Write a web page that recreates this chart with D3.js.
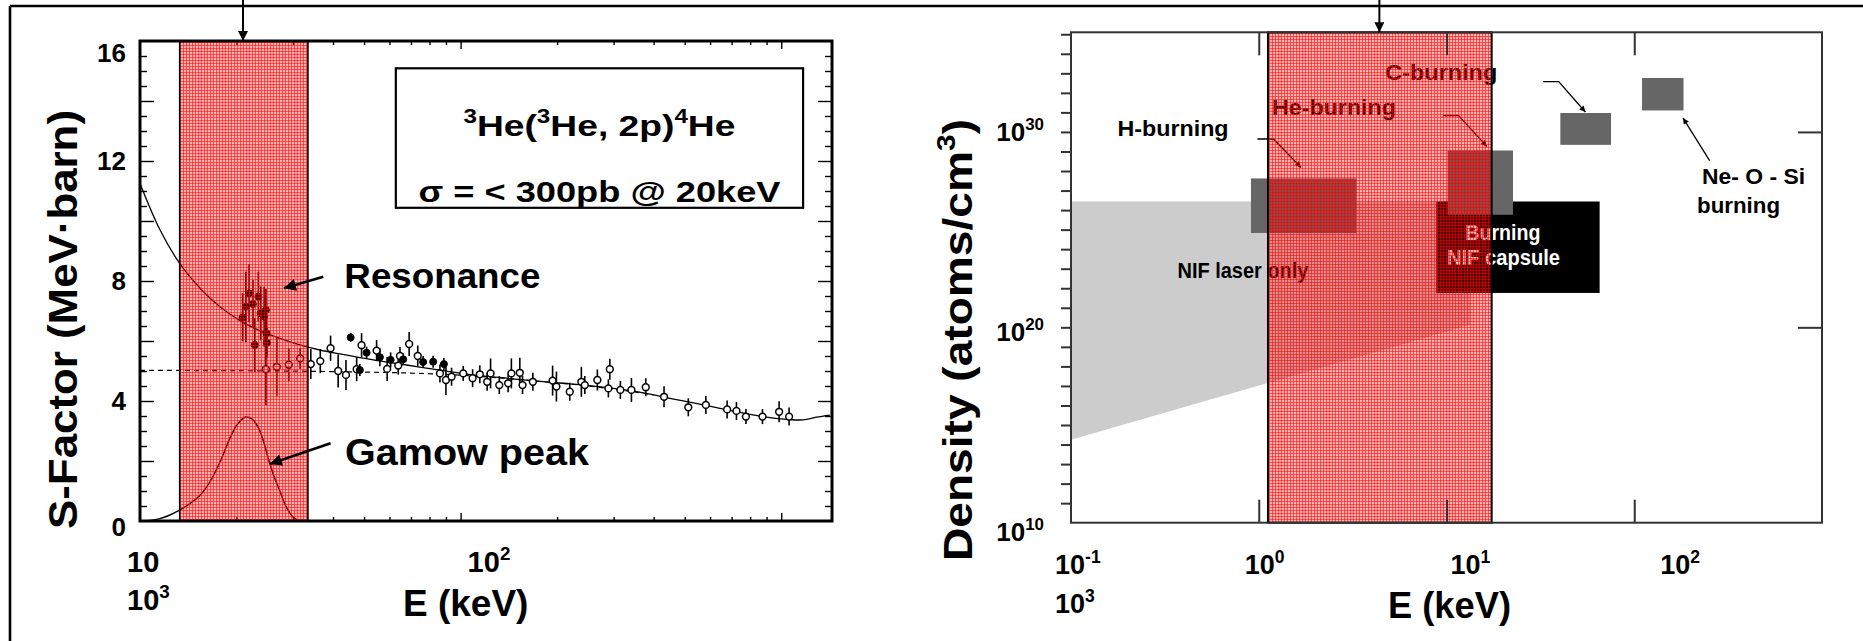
<!DOCTYPE html>
<html>
<head>
<meta charset="utf-8">
<script src="https://cdn.jsdelivr.net/npm/d3@7/dist/d3.min.js"></script>
<style>
  html, body { margin: 0; padding: 0; background: #fff; }
  svg { display: block; }
  text { font-family: "Liberation Sans", Arial, Helvetica, sans-serif; font-weight: bold; }
</style>
</head>
<body>
<svg id="fig" width="1863" height="641"></svg>
<script>
// ================= Left panel: 3He(3He,2p)4He S-factor =================
// R-matrix style fit of the S-factor (MeV·barn) vs centre-of-mass energy (keV)
const fitE = [10, 11.55, 13.33, 15.4, 17.76, 20.5, 23.7, 27.3, 31.5, 36.4, 42, 53.4, 67.8, 86.2, 109, 139, 172.6, 220, 278, 354, 449, 571, 725, 878, 1039, 1170, 1288, 1418];
const fitS = [11.25, 9.7, 8.57, 7.76, 7.14, 6.68, 6.34, 6.09, 5.87, 5.7, 5.57, 5.37, 5.2, 5.03, 4.87, 4.76, 4.66, 4.57, 4.46, 4.31, 4.09, 3.87, 3.64, 3.48, 3.39, 3.37, 3.46, 3.53];
// bare-nucleus S-factor (dashed)
const bareE = [10, 20, 40, 70, 100, 150, 250, 360, 400];
const bareS = [5.02, 5.01, 4.98, 4.93, 4.86, 4.72, 4.5, 4.28, 4.2];
// Gamow peak (arbitrary units on the same axis)
const gamowE = [10, 10.75, 11.54, 12.4, 13.32, 14.31, 15.37, 16.51, 17.74, 19.06, 20.06, 21.26, 22.37, 23.37, 24.21, 25.1, 26.16, 27.3, 28.5, 29.75, 31.1, 32.7];
const gamowS = [0, 0.02, 0.08, 0.2, 0.37, 0.58, 0.85, 1.3, 1.95, 2.75, 3.2, 3.46, 3.4, 3.12, 2.7, 2.1, 1.5, 1.0, 0.5, 0.18, 0.02, 0];
// measurements, open symbols: energy (keV), S (MeV·b), error
const openE = [24.7, 26.7, 29.1, 31.6, 34.1, 36.5, 39.3, 41.5, 43.9, 47.4, 49.1, 54.7, 59.0, 63.9, 64.7, 69.1, 73.5, 86.2, 90, 93.7, 101.9, 109, 114.8, 121, 124, 132, 140.7, 144, 153, 156, 168, 193.6, 199, 219, 238, 244, 267, 292, 289, 315, 341, 378, 431, 513, 582, 678, 725, 776, 874, 985, 1058];
const openS = [5.06, 5.14, 5.21, 5.42, 5.23, 5.33, 5.76, 5.0, 4.87, 5.06, 5.86, 5.68, 5.07, 5.18, 5.5, 5.9, 5.5, 4.92, 4.7, 4.81, 4.92, 4.76, 4.89, 4.64, 4.92, 4.53, 4.59, 4.92, 4.94, 4.53, 4.64, 4.68, 4.48, 4.31, 4.64, 4.53, 4.7, 5.06, 4.42, 4.37, 4.37, 4.46, 4.14, 3.79, 3.87, 3.72, 3.67, 3.48, 3.48, 3.64, 3.48];
const openErr = [1.2, 0.97, 0.55, 0.35, 0.5, 0.4, 0.42, 0.55, 0.5, 0.4, 0.4, 0.35, 0.4, 0.3, 0.3, 0.4, 0.35, 0.3, 0.5, 0.3, 0.25, 0.3, 0.3, 0.3, 0.5, 0.3, 0.3, 0.5, 0.5, 0.3, 0.3, 0.5, 0.5, 0.3, 0.5, 0.3, 0.35, 0.35, 0.3, 0.3, 0.4, 0.3, 0.35, 0.3, 0.3, 0.3, 0.3, 0.25, 0.25, 0.35, 0.3];
// measurements, filled symbols
const filledE = [20.9, 21.4, 21.9, 22.5, 22.8, 23.4, 23.8, 24.4, 24.7, 24.8, 24.9, 45.4, 48.5, 50.9, 56, 60.5, 66.2, 76.4, 82.1, 88.7];
const filledS = [6.79, 7.14, 7.59, 7.23, 5.87, 7.48, 6.92, 6.81, 7.03, 6.26, 5.94, 6.12, 5.03, 5.61, 5.46, 5.37, 5.39, 5.3, 5.31, 5.23];
const filledErr = [0.8, 1.17, 0.97, 0.8, 0.9, 0.83, 0.9, 1.0, 0.7, 0.6, 0.5, 0.15, 0.2, 0.2, 0.3, 0.25, 0.2, 0.2, 0.2, 0.2];
// Gamow window (keV) and solar Gamow energy
const windowLeft = [13.3, 33.4];
const peakLeft = 20.95;
const sTickValues = [0, 4, 8, 12, 16];
const sTickLabels = ["0", "4", "8", "12", "16"];
const eLeftTickLabels = [["10", ""], ["10", "2"]];
const eLeftTickValues = [10, 100];

// ================= Right panel: density vs temperature =================
// log10 of density (atoms/cm^3) is used for the region corners
const laserE = [0.1, 13.4, 13.4, 0.1];
const laserLogD = [26.44, 26.44, 20.13, 14.25];
const boxNames = ["H-burning", "Burning NIF capsule", "He-burning", "C-burning", "Ne-O-Si burning"];
const boxE0 = [0.909, 8.83, 10.14, 40.4, 110];
const boxE1 = [3.31, 65.4, 22.6, 75.2, 183];
const boxLogD0 = [24.83, 21.76, 25.76, 29.34, 31.10];
const boxLogD1 = [27.62, 26.44, 29.05, 30.97, 32.76];
const windowRight = [1.12, 17.4];
const peakRight = 4.39;
const eRightTickValues = [0.1, 1, 10, 100];
const eRightTickLabels = [["10", "-1"], ["10", "0"], ["10", "1"], ["10", "2"]];
const dTickValues = [1e10, 1e20, 1e30];
const dTickLabels = [["10", "10"], ["10", "20"], ["10", "30"]];
const regionLabels = ["H-burning", "He-burning", "C-burning", "NIF laser only", "Burning", "NIF capsule", "Ne- O - Si", "burning"];
const regionLabelE = [0.177, 1.176, 4.72, 0.369, 12.6, 10.06, 229.7, 216];
const regionLabelLogD = [29.81, 30.88, 32.65, 22.55, 24.48, 23.2, 27.33, 25.85];
const leaderE = [[0.985, 1.199, 1.678], [9.58, 11.6, 16.4], [32.7, 39.6, 54.9], [252, 182]];
const leaderLogD = [[29.64, 29.64, 28.18], [30.84, 30.84, 29.26], [32.58, 32.58, 31.02], [28.53, 30.71]];

// ---------------- layout & styles ----------------
const W = 1863, H = 641;
const PL = { x0: 140, x1: 832, y0: 41, y1: 521 };
const PR = { x0: 1071, x1: 1822, y0: 32.3, y1: 522.7 };
const boxFill = ["#666666", "#000000", "#666666", "#666666", "#666666"];
const regionLabelColor = ["#000", "#000", "#000", "#000", "#fff", "#fff", "#000", "#000"];
const regionLabelWidth = [111, 124, 112, 131, 75, 113, 103, 83];

const svg = d3.select("#fig");
const defs = svg.append("defs");

// red cross-hatch used for the Gamow windows
const pat = defs.append("pattern").attr("id", "hatch")
  .attr("patternUnits", "userSpaceOnUse").attr("width", 3).attr("height", 3);
pat.append("rect").attr("width", 3).attr("height", 3).attr("fill", "rgba(255,0,0,0.30)");
pat.append("rect").attr("width", 3).attr("height", 1).attr("fill", "rgba(255,0,0,0.55)");
pat.append("rect").attr("width", 1).attr("height", 3).attr("fill", "rgba(255,0,0,0.55)");

function arrowMarker(id, len, wid) {
  defs.append("marker").attr("id", id)
    .attr("viewBox", "0 0 10 10").attr("refX", 10).attr("refY", 5)
    .attr("markerUnits", "userSpaceOnUse")
    .attr("markerWidth", len).attr("markerHeight", wid)
    .attr("orient", "auto")
    .append("path").attr("d", "M0,0 L10,5 L0,10 Z").attr("fill", "#000");
}
arrowMarker("headBig", 15, 12);
arrowMarker("headTop", 12, 10);
arrowMarker("headSmall", 9, 6);

// text with superscripts: parts = [[str, isSup], ...]
function richText(sel, parts, fs) {
  let up = false;
  parts.forEach(([s, isSup]) => {
    if (!s) return;
    const ts = sel.append("tspan").text(s);
    if (isSup) ts.attr("font-size", fs * 0.65);
    if (isSup && !up) ts.attr("dy", -0.42 * fs);
    if (!isSup && up) ts.attr("dy", 0.42 * fs);
    up = isSup;
  });
  return sel;
}

// outer frame of the slide
svg.append("line").attr("x1", 10).attr("x2", W).attr("y1", 6).attr("y2", 6)
  .attr("stroke", "#000").attr("stroke-width", 2.6);
svg.append("line").attr("x1", 10).attr("x2", 10).attr("y1", 6).attr("y2", H)
  .attr("stroke", "#000").attr("stroke-width", 2.6);

// ======================= LEFT PANEL =======================
const xL = d3.scaleLog().domain([10, 1440]).range([PL.x0, PL.x1]);
const yL = d3.scaleLinear().domain([0, 16]).range([PL.y1, PL.y0]);
const gL = svg.append("g");

// ticks (all pointing inward)
const eMinor = d3.range(20, 100, 10).concat(d3.range(200, 1000, 100));
const eMajor = [100, 1000];
const sMinor = d3.range(0.5, 16, 0.5).filter(v => v % 2 !== 0);
const sMajor = d3.range(2, 16, 2);
function tickGroup(axis, tx, ty) {
  const g = gL.append("g").attr("transform", `translate(${tx},${ty})`).call(axis);
  g.select(".domain").remove();
  g.selectAll("line").attr("stroke", "#000").attr("stroke-width", 1.4);
  return g;
}
tickGroup(d3.axisBottom(xL).tickValues(eMinor).tickSize(-4).tickFormat(""), 0, PL.y1);
tickGroup(d3.axisBottom(xL).tickValues(eMajor).tickSize(-8).tickFormat(""), 0, PL.y1);
tickGroup(d3.axisTop(xL).tickValues(eMinor).tickSize(-4).tickFormat(""), 0, PL.y0);
tickGroup(d3.axisTop(xL).tickValues(eMajor).tickSize(-8).tickFormat(""), 0, PL.y0);
tickGroup(d3.axisLeft(yL).tickValues(sMinor).tickSize(-7).tickFormat(""), PL.x0, 0);
tickGroup(d3.axisLeft(yL).tickValues(sMajor).tickSize(-14).tickFormat(""), PL.x0, 0);
tickGroup(d3.axisRight(yL).tickValues(sMinor).tickSize(-7).tickFormat(""), PL.x1, 0);
tickGroup(d3.axisRight(yL).tickValues(sMajor).tickSize(-14).tickFormat(""), PL.x1, 0);

// curves
const lineL = d3.line().x(d => xL(d[0])).y(d => yL(d[1])).curve(d3.curveCatmullRom);
gL.append("path").datum(fitE.map((e, i) => [e, fitS[i]])).attr("d", lineL)
  .attr("fill", "none").attr("stroke", "#000").attr("stroke-width", 1.3);
gL.append("path").datum(bareE.map((e, i) => [e, bareS[i]])).attr("d", lineL)
  .attr("fill", "none").attr("stroke", "#000").attr("stroke-width", 1.2).attr("stroke-dasharray", "5,4");
gL.append("path").datum(gamowE.map((e, i) => [e, gamowS[i]])).attr("d", lineL)
  .attr("fill", "none").attr("stroke", "#000").attr("stroke-width", 1.4);

// data points with error bars
const openPts = openE.map((e, i) => ({ e, s: openS[i], err: openErr[i] }));
const filledPts = filledE.map((e, i) => ({ e, s: filledS[i], err: filledErr[i] }));
const allPts = openPts.concat(filledPts);
gL.append("g").selectAll("line").data(allPts).join("line")
  .attr("x1", d => xL(d.e)).attr("x2", d => xL(d.e))
  .attr("y1", d => yL(d.s - d.err)).attr("y2", d => yL(d.s + d.err))
  .attr("stroke", "#000").attr("stroke-width", 1.6);
gL.append("g").selectAll("circle").data(openPts).join("circle")
  .attr("cx", d => xL(d.e)).attr("cy", d => yL(d.s)).attr("r", 3.4)
  .attr("fill", "#fff").attr("stroke", "#000").attr("stroke-width", 1.5);
gL.append("g").selectAll("circle").data(filledPts).join("circle")
  .attr("cx", d => xL(d.e)).attr("cy", d => yL(d.s)).attr("r", 3.5)
  .attr("fill", "#000").attr("stroke", "#000").attr("stroke-width", 1);

// Gamow window
gL.append("rect").attr("x", xL(windowLeft[0])).attr("y", PL.y0)
  .attr("width", xL(windowLeft[1]) - xL(windowLeft[0])).attr("height", PL.y1 - PL.y0)
  .attr("fill", "url(#hatch)");
windowLeft.forEach(e => gL.append("line").attr("x1", xL(e)).attr("x2", xL(e))
  .attr("y1", PL.y0).attr("y2", PL.y1).attr("stroke", "#000").attr("stroke-width", 1.6));

// frame
gL.append("rect").attr("x", PL.x0).attr("y", PL.y0)
  .attr("width", PL.x1 - PL.x0).attr("height", PL.y1 - PL.y0)
  .attr("fill", "none").attr("stroke", "#000").attr("stroke-width", 3);

// tick labels
sTickValues.forEach((v, i) => {
  let y = yL(v);
  if (v === 16) y += 12;
  if (v === 0) y += 6;
  gL.append("text").attr("x", 126).attr("y", y).attr("dy", "0.35em")
    .attr("text-anchor", "end").attr("font-size", 26).text(sTickLabels[i]);
});
const eLeftLabelDx = [-13, 7];
eLeftTickValues.forEach((v, i) => {
  const t = gL.append("text").attr("x", xL(v) + eLeftLabelDx[i]).attr("y", 572).attr("font-size", 29);
  richText(t, [[eLeftTickLabels[i][0], false], [eLeftTickLabels[i][1], true]], 29);
});
richText(gL.append("text").attr("x", xL(10) - 13).attr("y", 610).attr("font-size", 29), [["10", false], ["3", true]], 29);

// axis titles
gL.append("text").attr("x", 403).attr("y", 616).attr("font-size", 37).text("E (keV)");
gL.append("text").attr("transform", "translate(77,319.5) rotate(-90)")
  .attr("text-anchor", "middle").attr("font-size", 41)
  .attr("textLength", 419).attr("lengthAdjust", "spacingAndGlyphs")
  .text("S-Factor (MeV\u00B7barn)");

// reaction box
const boxEL = [62.8, 1170], boxSL = [10.44, 15.09];
gL.append("rect").attr("x", xL(boxEL[0])).attr("y", yL(boxSL[1]))
  .attr("width", xL(boxEL[1]) - xL(boxEL[0])).attr("height", yL(boxSL[0]) - yL(boxSL[1]))
  .attr("fill", "#fff").attr("stroke", "#000").attr("stroke-width", 2.2);
const boxCx = (xL(boxEL[0]) + xL(boxEL[1])) / 2;
richText(gL.append("text").attr("x", boxCx).attr("y", 136).attr("text-anchor", "middle")
  .attr("font-size", 30).attr("textLength", 272).attr("lengthAdjust", "spacingAndGlyphs"),
  [["3", true], ["He(", false], ["3", true], ["He, 2p)", false], ["4", true], ["He", false]], 30);
gL.append("text").attr("x", boxCx).attr("y", 201.5).attr("text-anchor", "middle")
  .attr("font-size", 30).attr("textLength", 362).attr("lengthAdjust", "spacingAndGlyphs")
  .text("\u03C3 = < 300pb @ 20keV");

// annotations
gL.append("text").attr("x", xL(43.4)).attr("y", yL(7.76)).attr("font-size", 35)
  .attr("textLength", 196).attr("lengthAdjust", "spacingAndGlyphs").text("Resonance");
gL.append("line").attr("x1", xL(37.3)).attr("y1", yL(8.14)).attr("x2", xL(28.1)).attr("y2", yL(7.76))
  .attr("stroke", "#000").attr("stroke-width", 2.6).attr("marker-end", "url(#headBig)");
gL.append("text").attr("x", xL(43.6)).attr("y", yL(1.87)).attr("font-size", 36)
  .attr("textLength", 244).attr("lengthAdjust", "spacingAndGlyphs").text("Gamow peak");
gL.append("line").attr("x1", xL(39.3)).attr("y1", yL(2.59)).attr("x2", xL(25.4)).attr("y2", yL(1.9))
  .attr("stroke", "#000").attr("stroke-width", 2.6).attr("marker-end", "url(#headBig)");
gL.append("line").attr("x1", xL(peakLeft)).attr("x2", xL(peakLeft)).attr("y1", 0).attr("y2", PL.y0)
  .attr("stroke", "#000").attr("stroke-width", 2).attr("marker-end", "url(#headTop)");

// ======================= RIGHT PANEL =======================
const xR = d3.scaleLog().domain([0.1, 1000]).range([PR.x0, PR.x1]);
const yR = d3.scaleLog().domain([1e10, Math.pow(10, 35.1)]).range([PR.y1, PR.y0]);
const yRlog = v => yR(Math.pow(10, v));
const gR = svg.append("g");

// NIF laser-only region
gR.append("path")
  .datum(laserE.map((e, i) => [e, laserLogD[i]]))
  .attr("d", d3.line().x(d => xR(d[0])).y(d => yRlog(d[1]))(laserE.map((e, i) => [e, laserLogD[i]])) + "Z")
  .attr("fill", "#cccccc");

// burning regions
gR.append("g").selectAll("rect").data(boxNames).join("rect")
  .attr("x", (d, i) => xR(boxE0[i])).attr("width", (d, i) => xR(boxE1[i]) - xR(boxE0[i]))
  .attr("y", (d, i) => yRlog(boxLogD1[i])).attr("height", (d, i) => yRlog(boxLogD0[i]) - yRlog(boxLogD1[i]))
  .attr("fill", (d, i) => boxFill[i]);

// region labels
regionLabels.forEach((s, i) => {
  gR.append("text").attr("x", xR(regionLabelE[i])).attr("y", yRlog(regionLabelLogD[i]))
    .attr("font-size", 22).attr("fill", regionLabelColor[i])
    .attr("textLength", regionLabelWidth[i]).attr("lengthAdjust", "spacingAndGlyphs").text(s);
});
// leaders
leaderE.forEach((es, k) => {
  gR.append("path").datum(es.map((e, i) => [e, leaderLogD[k][i]]))
    .attr("d", d3.line().x(d => xR(d[0])).y(d => yRlog(d[1])))
    .attr("fill", "none").attr("stroke", "#000").attr("stroke-width", 1.3)
    .attr("marker-end", "url(#headSmall)");
});

// Gamow window
gR.append("rect").attr("x", xR(windowRight[0])).attr("y", PR.y0)
  .attr("width", xR(windowRight[1]) - xR(windowRight[0])).attr("height", PR.y1 - PR.y0)
  .attr("fill", "url(#hatch)").attr("stroke", "#000").attr("stroke-width", 2);

// frame & ticks
gR.append("rect").attr("x", PR.x0).attr("y", PR.y0)
  .attr("width", PR.x1 - PR.x0).attr("height", PR.y1 - PR.y0)
  .attr("fill", "none").attr("stroke", "#333").attr("stroke-width", 2);
function tickGroupR(axis, tx, ty) {
  const g = gR.append("g").attr("transform", `translate(${tx},${ty})`).call(axis);
  g.select(".domain").remove();
  g.selectAll("line").attr("stroke", "#333").attr("stroke-width", 2);
  return g;
}
const decadesD = d3.range(11, 36).map(p => Math.pow(10, p));
tickGroupR(d3.axisLeft(yR).tickValues(decadesD).tickSize(10).tickFormat(""), PR.x0, 0);
tickGroupR(d3.axisRight(yR).tickValues([1e20, 1e30]).tickSize(-24).tickFormat(""), PR.x1, 0);
tickGroupR(d3.axisBottom(xR).tickValues([1, 10, 100]).tickSize(-23).tickFormat(""), 0, PR.y1);
tickGroupR(d3.axisTop(xR).tickValues([1, 10, 100]).tickSize(-23).tickFormat(""), 0, PR.y0);

// tick labels
const eRightLabelDx = [-16, -14, 4, 26];
eRightTickValues.forEach((v, i) => {
  const t = gR.append("text").attr("x", xR(v) + eRightLabelDx[i]).attr("y", 574).attr("font-size", 27);
  richText(t, [[eRightTickLabels[i][0], false], [eRightTickLabels[i][1], true]], 27);
});
richText(gR.append("text").attr("x", xR(0.1) - 16).attr("y", 613).attr("font-size", 27), [["10", false], ["3", true]], 27);
const dLabelDy = [18, 14, 9];
dTickValues.forEach((v, i) => {
  const t = gR.append("text").attr("x", 1044).attr("y", yR(v) + dLabelDy[i])
    .attr("text-anchor", "end").attr("font-size", 26);
  richText(t, [[dTickLabels[i][0], false], [dTickLabels[i][1], true]], 26);
});

// axis titles
gR.append("text").attr("x", 1388).attr("y", 618).attr("font-size", 36)
  .attr("textLength", 123).attr("lengthAdjust", "spacingAndGlyphs").text("E (keV)");
richText(gR.append("text").attr("transform", "translate(972,340) rotate(-90)")
  .attr("text-anchor", "middle").attr("font-size", 41)
  .attr("textLength", 442).attr("lengthAdjust", "spacingAndGlyphs"),
  [["Density (atoms/cm", false], ["3", true], [")", false]], 41);

gR.append("line").attr("x1", xR(peakRight)).attr("x2", xR(peakRight)).attr("y1", 0).attr("y2", PR.y0)
  .attr("stroke", "#000").attr("stroke-width", 2).attr("marker-end", "url(#headTop)");
</script>
</body>
</html>
